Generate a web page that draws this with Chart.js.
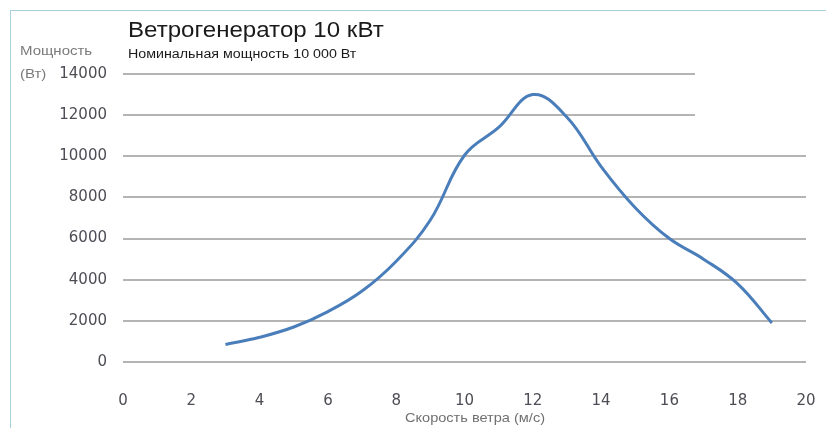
<!DOCTYPE html>
<html>
<head>
<meta charset="utf-8">
<script src="https://cdn.jsdelivr.net/npm/chart.js@4"></script>
<style>
  body { margin: 0; background: #fff; }
  #wrap { position: relative; width: 826px; height: 428px; overflow: hidden; }
  #frame { position: absolute; left: 10px; top: 10px; width: 900px; height: 500px; border: 1px solid #a9cfdd; }
  canvas { position: absolute; left: 0; top: 0; }
  .txt { position: absolute; font-family: "Liberation Sans", Arial, sans-serif; white-space: nowrap; transform-origin: 0 0; }
  #title { left: 128px; top: 17px; font-size: 22px; color: #1a1a1a; transform: scaleX(1.095); }
  #subtitle { left: 128px; top: 47px; font-size: 12.5px; color: #1a1a1a; transform: scaleX(1.14); }
  #ylabel { left: 20px; top: 40px; font-size: 12.5px; color: #7a7a7a; line-height: 23px; transform: scaleX(1.2); }
  #xlabel { left: 405px; top: 410px; font-size: 13px; color: #707070; transform: scaleX(1.12); }
</style>
</head>
<body>
<div id="wrap">
  <div id="frame"></div>
  <canvas id="grafico" width="826" height="428"></canvas>
  <div class="txt" id="title">Ветрогенератор 10 кВт</div>
  <div class="txt" id="subtitle">Номинальная мощность 10 000 Вт</div>
  <div class="txt" id="ylabel">Мощность<br>(Вт)</div>
  <div class="txt" id="xlabel">Скорость ветра (м/с)</div>
</div>
<script>
  // скорость ветра (м/с) и мощность (Вт)
  const windSpeed = [3, 4, 5, 6, 7, 8, 9, 10, 11, 12, 13, 14, 15, 16, 17, 18, 19];
  const power = [850, 1200, 1700, 2450, 3450, 4900, 6900, 10050, 11400, 13000, 11900, 9500, 7500, 6000, 5000, 3800, 1900];
  const xTicks = [0, 2, 4, 6, 8, 10, 12, 14, 16, 18, 20];
  const yTicks = [0, 2000, 4000, 6000, 8000, 10000, 12000, 14000];

  // the top two gridlines stop short on the right (text box over them)
  const coverGrid = {
    id: "coverGrid",
    beforeDatasetsDraw(chart) {
      const { ctx, chartArea, scales } = chart;
      const x0 = scales.x.getPixelForValue(16.75);
      const y1 = scales.y.getPixelForValue(11000);
      ctx.save();
      ctx.fillStyle = "#fff";
      ctx.fillRect(x0, chartArea.top - 3, chartArea.right + 10 - x0, y1 - chartArea.top + 3);
      ctx.restore();
    }
  };

  const ctx = document.getElementById("grafico").getContext("2d");
  new Chart(ctx, {
    type: "scatter",
    data: {
      datasets: [{
        data: windSpeed.map((v, i) => ({ x: v, y: power[i] })),
        showLine: true,
        borderColor: "#4a7ebb",
        borderWidth: 3,
        tension: 0.4,
        pointRadius: 0
      }]
    },
    options: {
      responsive: false,
      animation: false,
      layout: { padding: { left: 10, top: 74, right: 20, bottom: 0 } },
      plugins: { legend: { display: false }, tooltip: { enabled: false } },
      scales: {
        x: {
          min: 0, max: 20,
          afterBuildTicks: s => { s.ticks = xTicks.map(v => ({ value: v })); },
          afterFit: s => { s.height = 66; s.paddingLeft = 0; s.paddingRight = 10; },
          grid: { display: false },
          border: { display: false },
          ticks: { padding: 22, color: "#4d4d55", font: { family: "DejaVu Sans", size: 15 }, maxRotation: 0, callback: v => String(v) }
        },
        y: {
          min: 0, max: 14000,
          afterBuildTicks: s => { s.ticks = yTicks.map(v => ({ value: v })); },
          afterFit: s => { s.width = 113; },
          grid: { color: "#b4b4b4", lineWidth: 2, drawTicks: false },
          border: { display: false },
          ticks: { padding: 16, color: "#4d4d55", font: { family: "DejaVu Sans", size: 15 }, callback: v => String(v) }
        }
      }
    },
    plugins: [coverGrid]
  });
</script>
</body>
</html>
